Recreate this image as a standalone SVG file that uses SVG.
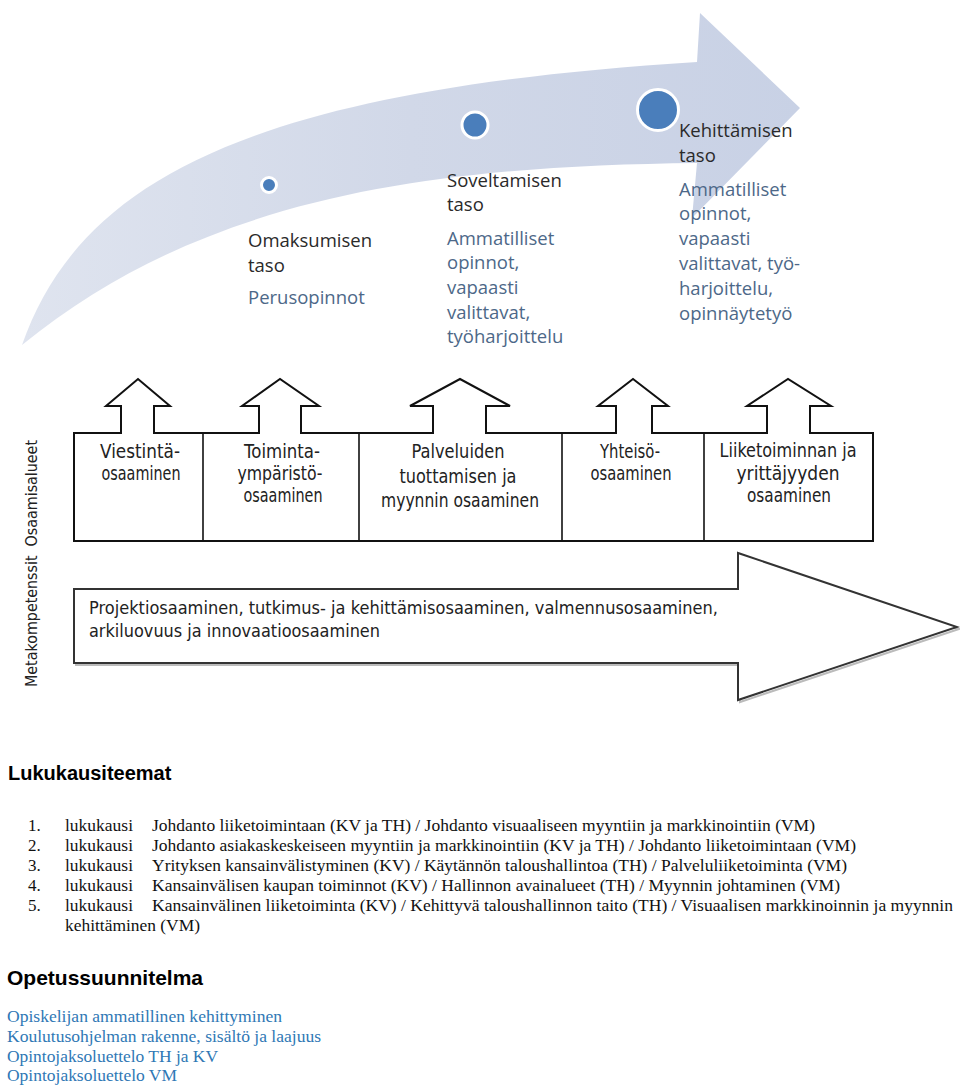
<svg xmlns="http://www.w3.org/2000/svg" width="960" height="1091" viewBox="0 0 960 1091">
<defs>
<linearGradient id="band" x1="0" y1="0" x2="1" y2="0">
<stop offset="0" stop-color="#dfe4ef"/>
<stop offset="0.5" stop-color="#d1d8e8"/>
<stop offset="1" stop-color="#c8d1e5"/>
</linearGradient>
<style>
.lvl{font-family:"Open Sans","Noto Sans",sans-serif;font-size:18.5px;fill:#2a2a2a}
.sub{font-family:"Open Sans","Noto Sans",sans-serif;font-size:18.5px;fill:#4d6888}
.dot{fill:#4a7ebb;stroke:#ffffff;stroke-width:3}
.frame{fill:#ffffff;stroke:#111111;stroke-width:2;stroke-linejoin:miter}
.div{stroke:#111111;stroke-width:1.6}
.box{font-family:"DejaVu Sans","Verdana",sans-serif;font-size:19px;fill:#222222;text-anchor:middle}
.meta{font-family:"DejaVu Sans","Verdana",sans-serif;font-size:17.5px;fill:#222222}
.vert{font-family:"DejaVu Sans","Verdana",sans-serif;font-size:15px;fill:#222222}
.h{font-family:"Liberation Sans",Arial,sans-serif;font-weight:bold;fill:#000000}
.li{font-family:"Liberation Serif","Times New Roman",serif;font-size:17px;fill:#111111}
.lnk{font-family:"Liberation Serif","Times New Roman",serif;font-size:17px;fill:#2f78b5}
</style>
</defs>
<rect width="960" height="1091" fill="#ffffff"/>

<g id="progress-arrow">
<path d="M22,345 C80,180 250,90 697,62 L700,13 L800,108 L692,218 L697,163 C420,166 200,200 22,345 Z" fill="url(#band)"/>
</g>

<g id="level-omaksumisen">
<circle class="dot" cx="269" cy="185" r="7.5"/>
<text class="lvl" x="248" y="247">Omaksumisen</text>
<text class="lvl" x="248" y="272">taso</text>
<text class="sub" x="248" y="304">Perusopinnot</text>
</g>

<g id="level-soveltamisen">
<circle class="dot" cx="475" cy="125" r="13"/>
<text class="lvl" x="447" y="187">Soveltamisen</text>
<text class="lvl" x="447" y="211">taso</text>
<text class="sub" x="447" y="245">Ammatilliset</text>
<text class="sub" x="447" y="269">opinnot,</text>
<text class="sub" x="447" y="294">vapaasti</text>
<text class="sub" x="447" y="319">valittavat,</text>
<text class="sub" x="447" y="343">työharjoittelu</text>
</g>

<g id="level-kehittamisen">
<circle class="dot" cx="658" cy="110" r="20.5"/>
<text class="lvl" x="679" y="137">Kehittämisen</text>
<text class="lvl" x="679" y="162">taso</text>
<text class="sub" x="679" y="196">Ammatilliset</text>
<text class="sub" x="679" y="220">opinnot,</text>
<text class="sub" x="679" y="245">vapaasti</text>
<text class="sub" x="679" y="270">valittavat, työ-</text>
<text class="sub" x="679" y="295">harjoittelu,</text>
<text class="sub" x="679" y="320">opinnäytetyö</text>
</g>

<g id="connectors">
<path class="frame" d="M74,433 H121 V406 H106 L138,379 L170,406 H154 V433 H259 V406 H242 L280,379 L319,406 H301 V433 H433 V406 H410 L460,379 L510,406 H486 V433 H616 V406 H598 L633,379 L668,406 H652 V433 H767 V406 H747 L788,379 L831,406 H810 V433 H873 V541 H74 Z"/>
<line class="div" x1="203" y1="433" x2="203" y2="541"/>
<line class="div" x1="359" y1="433" x2="359" y2="541"/>
<line class="div" x1="562" y1="433" x2="562" y2="541"/>
<line class="div" x1="704" y1="433" x2="704" y2="541"/>
</g>

<g id="area-viestinta">
<text class="box" x="140" y="458" textLength="80" lengthAdjust="spacingAndGlyphs">Viestintä-</text>
<text class="box" x="141" y="480" textLength="79" lengthAdjust="spacingAndGlyphs">osaaminen</text>
</g>
<g id="area-toimintaymparisto">
<text class="box" x="282" y="458" textLength="76" lengthAdjust="spacingAndGlyphs">Toiminta-</text>
<text class="box" x="280" y="480" textLength="85" lengthAdjust="spacingAndGlyphs">ympäristö-</text>
<text class="box" x="283" y="502" textLength="79" lengthAdjust="spacingAndGlyphs">osaaminen</text>
</g>
<g id="area-palveluiden">
<text class="box" x="458" y="458" textLength="93" lengthAdjust="spacingAndGlyphs">Palveluiden</text>
<text class="box" x="458" y="483" textLength="117" lengthAdjust="spacingAndGlyphs">tuottamisen ja</text>
<text class="box" x="460" y="507" textLength="158" lengthAdjust="spacingAndGlyphs">myynnin osaaminen</text>
</g>
<g id="area-yhteiso">
<text class="box" x="630" y="458" textLength="60" lengthAdjust="spacingAndGlyphs">Yhteisö-</text>
<text class="box" x="631" y="480" textLength="81" lengthAdjust="spacingAndGlyphs">osaaminen</text>
</g>
<g id="area-liiketoiminnan">
<text class="box" x="788" y="457" textLength="137" lengthAdjust="spacingAndGlyphs">Liiketoiminnan ja</text>
<text class="box" x="788" y="480" textLength="103" lengthAdjust="spacingAndGlyphs">yrittäjyyden</text>
<text class="box" x="789" y="502" textLength="84" lengthAdjust="spacingAndGlyphs">osaaminen</text>
</g>

<g id="metakompetenssit">
<path d="M76,591 H740 V555 L959,629 L740,702 V665 H76 Z" fill="none" stroke="#bbbbbb" stroke-width="2"/>
<path d="M74,589 H738 V553 L957,627 L738,700 V663 H74 Z" fill="#ffffff" stroke="#333333" stroke-width="2"/>
<text class="meta" x="89" y="614" textLength="629" lengthAdjust="spacingAndGlyphs">Projektiosaaminen, tutkimus- ja kehittämisosaaminen, valmennusosaaminen,</text>
<text class="meta" x="89" y="637" textLength="291" lengthAdjust="spacingAndGlyphs">arkiluovuus ja innovaatioosaaminen</text>
</g>

<g id="vertical-label">
<text class="vert" transform="translate(37,687) rotate(-90)" x="0" y="0" textLength="247" lengthAdjust="spacingAndGlyphs" xml:space="preserve">Metakompetenssit  Osaamisalueet</text>
</g>

<g id="lukukausiteemat">
<text class="h" x="8" y="780" font-size="20">Lukukausiteemat</text>
<text class="li" x="28" y="831">1.</text>
<text class="li" x="65" y="831" textLength="68" lengthAdjust="spacingAndGlyphs">lukukausi</text>
<text class="li" x="152" y="831" textLength="663" lengthAdjust="spacingAndGlyphs">Johdanto liiketoimintaan (KV ja TH) / Johdanto visuaaliseen myyntiin ja markkinointiin (VM)</text>
<text class="li" x="28" y="851">2.</text>
<text class="li" x="65" y="851" textLength="68" lengthAdjust="spacingAndGlyphs">lukukausi</text>
<text class="li" x="152" y="851" textLength="704" lengthAdjust="spacingAndGlyphs">Johdanto asiakaskeskeiseen myyntiin ja markkinointiin (KV ja TH) / Johdanto liiketoimintaan (VM)</text>
<text class="li" x="28" y="871">3.</text>
<text class="li" x="65" y="871" textLength="68" lengthAdjust="spacingAndGlyphs">lukukausi</text>
<text class="li" x="152" y="871" textLength="695" lengthAdjust="spacingAndGlyphs">Yrityksen kansainvälistyminen (KV) / Käytännön taloushallintoa (TH) / Palveluliiketoiminta (VM)</text>
<text class="li" x="28" y="891">4.</text>
<text class="li" x="65" y="891" textLength="68" lengthAdjust="spacingAndGlyphs">lukukausi</text>
<text class="li" x="152" y="891" textLength="688" lengthAdjust="spacingAndGlyphs">Kansainvälisen kaupan toiminnot (KV) / Hallinnon avainalueet (TH) / Myynnin johtaminen (VM)</text>
<text class="li" x="28" y="911">5.</text>
<text class="li" x="65" y="911" textLength="68" lengthAdjust="spacingAndGlyphs">lukukausi</text>
<text class="li" x="152" y="911" textLength="801" lengthAdjust="spacingAndGlyphs">Kansainvälinen liiketoiminta (KV) / Kehittyvä taloushallinnon taito (TH) / Visuaalisen markkinoinnin ja myynnin</text>
<text class="li" x="65" y="931" textLength="135" lengthAdjust="spacingAndGlyphs">kehittäminen (VM)</text>
</g>

<g id="opetussuunnitelma">
<text class="h" x="7" y="985" font-size="21">Opetussuunnitelma</text>
<text class="lnk" x="7" y="1022" textLength="275" lengthAdjust="spacingAndGlyphs">Opiskelijan ammatillinen kehittyminen</text>
<text class="lnk" x="7" y="1042" textLength="314" lengthAdjust="spacingAndGlyphs">Koulutusohjelman rakenne, sisältö ja laajuus</text>
<text class="lnk" x="7" y="1062" textLength="211" lengthAdjust="spacingAndGlyphs">Opintojaksoluettelo TH ja KV</text>
<text class="lnk" x="7" y="1081" textLength="170" lengthAdjust="spacingAndGlyphs">Opintojaksoluettelo VM</text>
</g>
</svg>
